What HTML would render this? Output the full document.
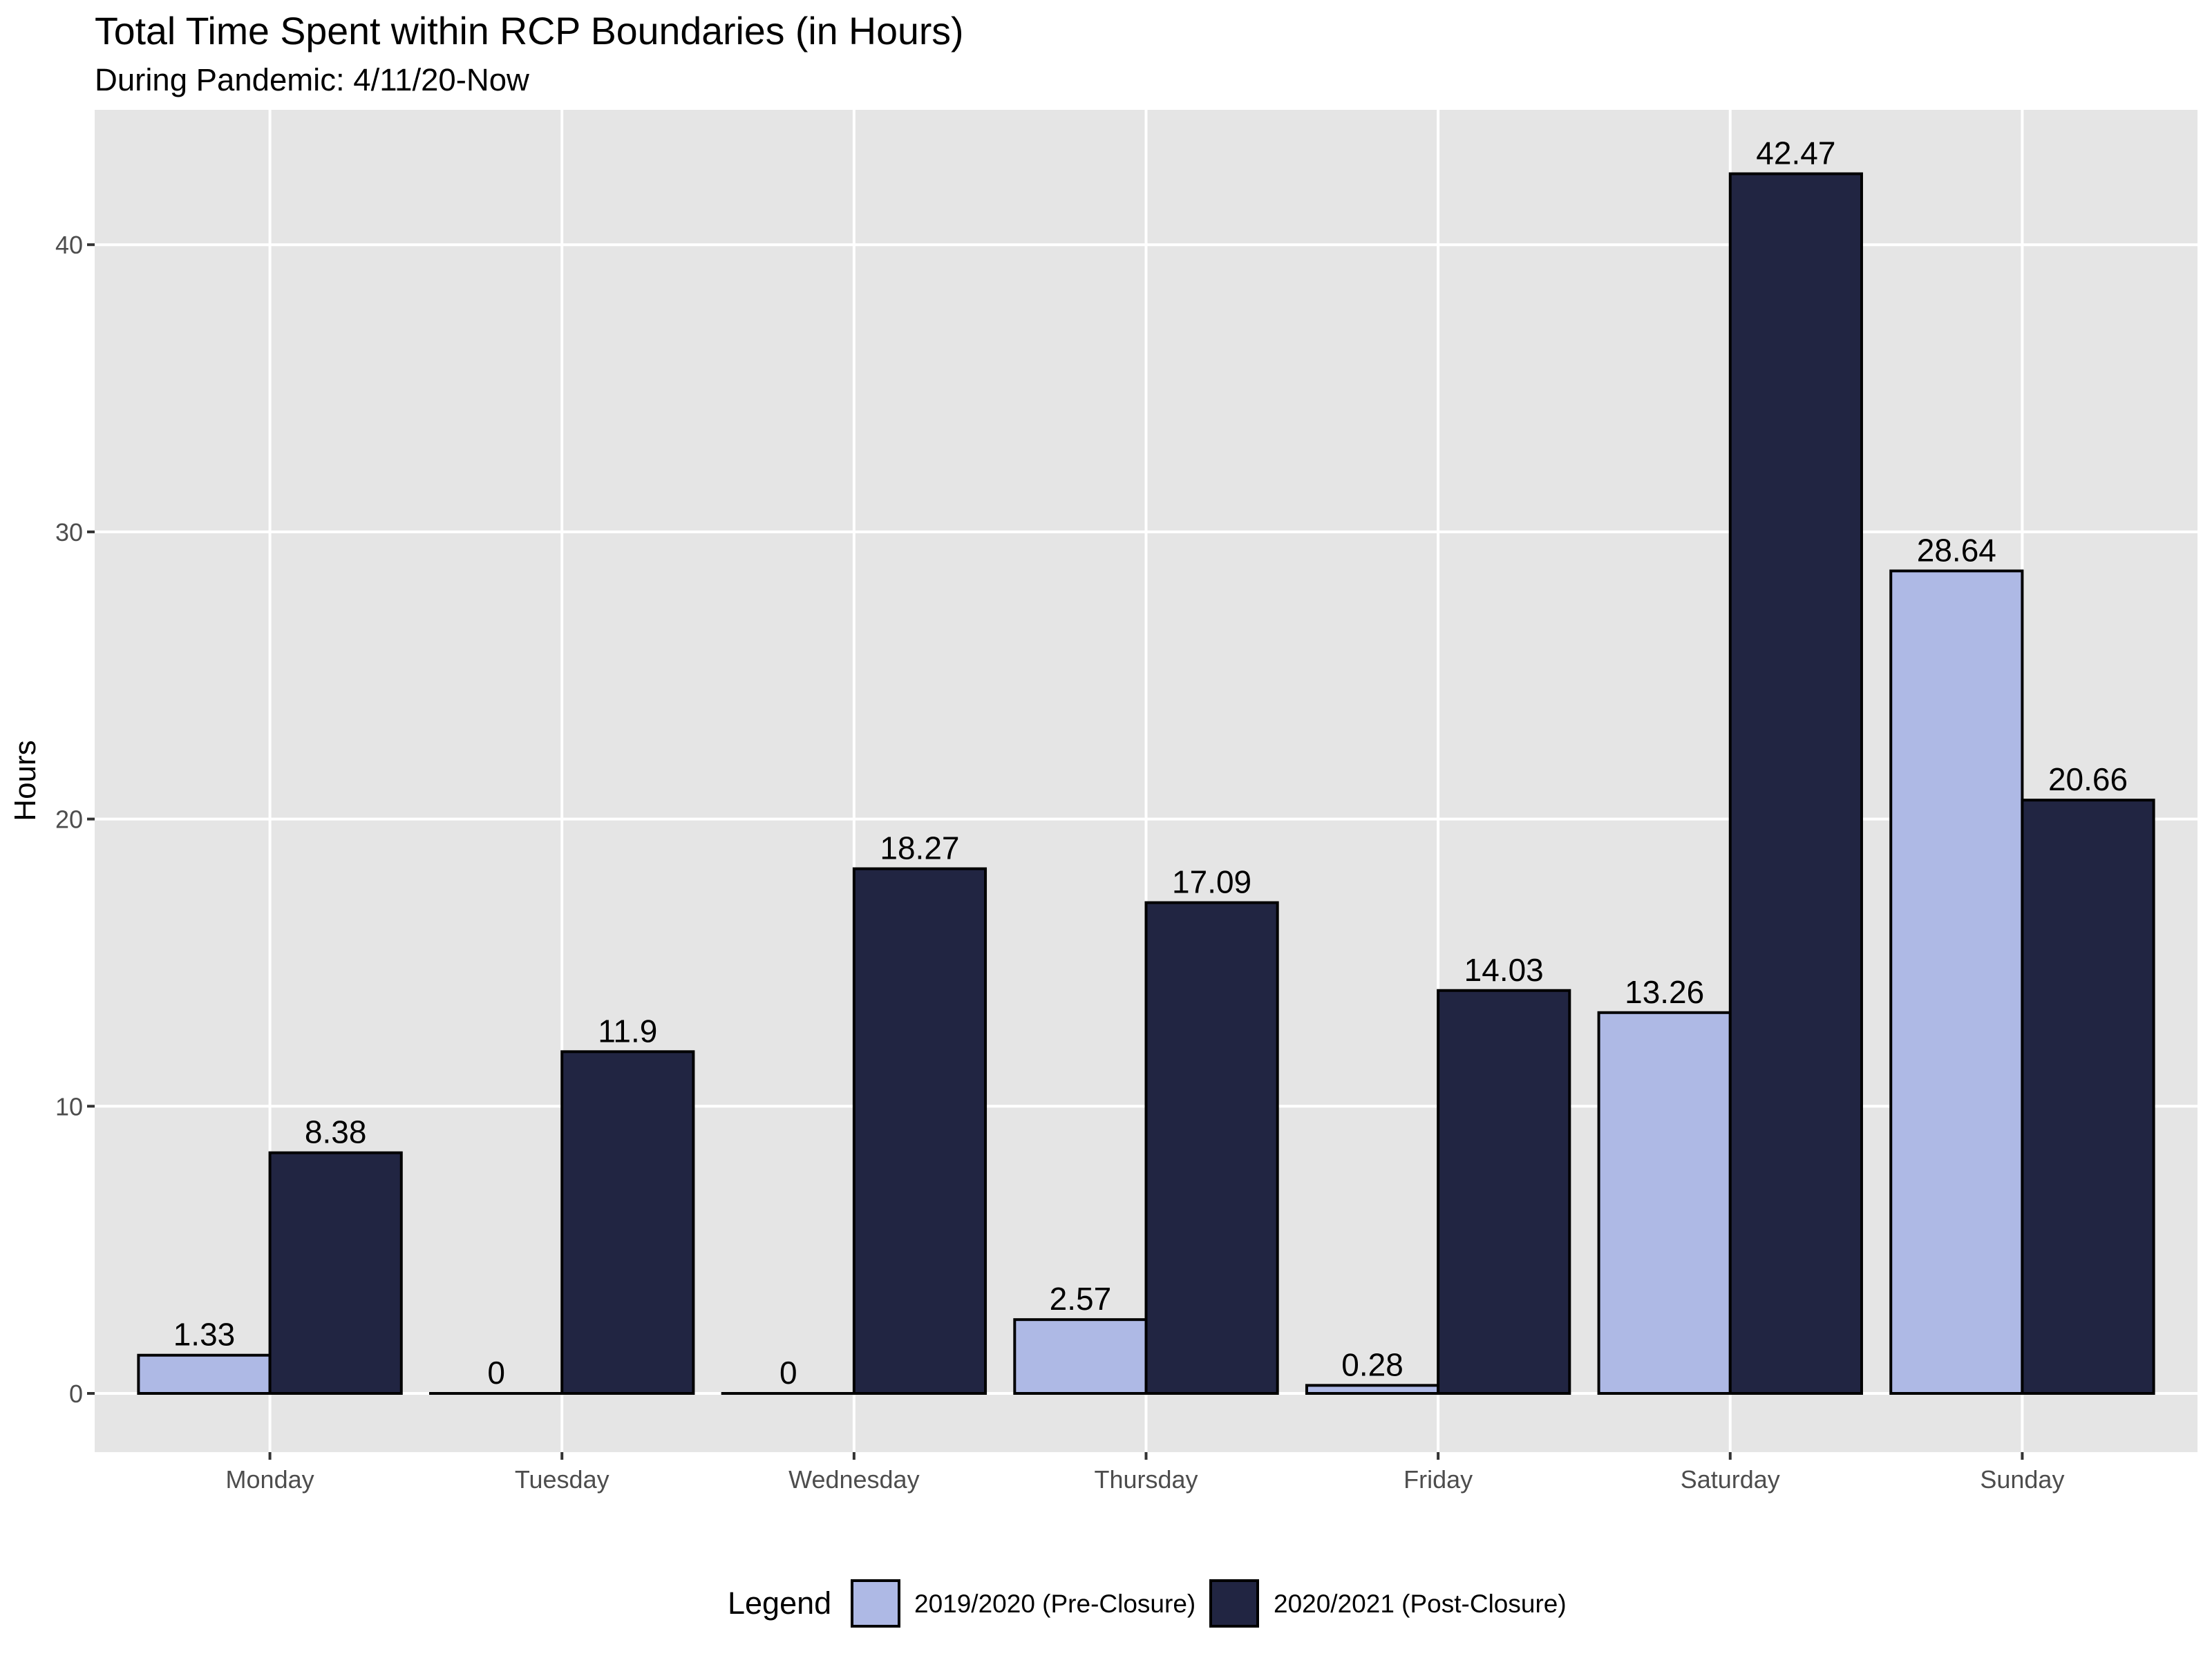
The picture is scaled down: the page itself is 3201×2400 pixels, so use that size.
<!DOCTYPE html>
<html><head><meta charset="utf-8"><style>
html,body{margin:0;padding:0;background:#fff;}
svg{display:block;font-family:"Liberation Sans",Arial,sans-serif;}
</style></head><body>
<svg id="chart" width="3201" height="2400" viewBox="0 0 3201 2400" xmlns="http://www.w3.org/2000/svg">
<rect width="3201" height="2400" fill="#fff"/>
<text x="137" y="64" font-size="55.5" fill="#000">Total Time Spent within RCP Boundaries (in Hours)</text>
<text x="137" y="131" font-size="45.5" fill="#000">During Pandemic: 4/11/20-Now</text>
<rect x="137" y="159" width="3043" height="1943" fill="#e5e5e5"/>
<g id="grid"></g>
<g id="bars"></g>
<g id="labels"></g>
<g id="axes"></g>
<text transform="translate(51,1130) rotate(-90)" text-anchor="middle" font-size="44" fill="#000">Hours</text>
<g>
<text x="1053" y="2336" font-size="45" fill="#000">Legend</text>
<rect x="1233" y="2288" width="68" height="66" fill="#aeb9e5" stroke="#000" stroke-width="4"/>
<text x="1323" y="2334" font-size="37" fill="#000">2019/2020 (Pre-Closure)</text>
<rect x="1752" y="2288" width="68" height="66" fill="#212542" stroke="#000" stroke-width="4"/>
<text x="1843" y="2334" font-size="37" fill="#000">2020/2021 (Post-Closure)</text>
</g>
</svg>
<script>
const categories = ["Monday","Tuesday","Wednesday","Thursday","Friday","Saturday","Sunday"];
const preClosure = [1.33, 0, 0, 2.57, 0.28, 13.26, 28.64];
const postClosure = [8.38, 11.9, 18.27, 17.09, 14.03, 42.47, 20.66];
const yTicks = [0, 10, 20, 30, 40];
const preLabels = ["1.33","0","0","2.57","0.28","13.26","28.64"];
const postLabels = ["8.38","11.9","18.27","17.09","14.03","42.47","20.66"];

const NS = "http://www.w3.org/2000/svg";
const PL = 137, PR = 3180, PT = 159, PB = 2102;
const Y0 = 2017, PXU = 41.57;
function y(v){ return Y0 - v * PXU; }
const step = (PR - PL) / (categories.length + 0.2);
function x(i){ return PL + step * (0.6 + i); }
const bw = step * 0.45;
function mk(tag, attrs, parent){
  const el = document.createElementNS(NS, tag);
  for (const k in attrs) el.setAttribute(k, attrs[k]);
  parent.appendChild(el); return el;
}
const grid = document.getElementById("grid");
const bars = document.getElementById("bars");
const labels = document.getElementById("labels");
const axes = document.getElementById("axes");

yTicks.forEach(t => {
  const l = mk("line", {x1:PL, x2:PR, y1:y(t), y2:y(t), stroke:"#fff", "stroke-width":4}, grid);
  
  
  const tk = mk("line", {x1:PL-11, x2:PL, y1:y(t), y2:y(t), stroke:"#333", "stroke-width":4}, axes);
  
  
  const tx = mk("text", {x:PL-17, y:y(t)+13, "text-anchor":"end", "font-size":36, fill:"#4d4d4d"}, axes);
  tx.textContent = t;
  
  
});
categories.forEach((c, i) => {
  const cx = x(i);
  const l = mk("line", {x1:cx, x2:cx, y1:PT, y2:PB, stroke:"#fff", "stroke-width":4}, grid);
  
  
  const tk = mk("line", {x1:cx, x2:cx, y1:PB, y2:PB+11, stroke:"#333", "stroke-width":4}, axes);
  
  
  const tx = mk("text", {x:cx, y:PB+52, "text-anchor":"middle", "font-size":36, fill:"#4d4d4d"}, axes);
  tx.textContent = c;
  
  

  [[preClosure[i], preLabels[i], cx - bw, "#aeb9e5", "bar-pre-closure"],
   [postClosure[i], postLabels[i], cx, "#212542", "bar-post-closure"]].forEach(([v, lab, bx, fill, name]) => {
    const top = y(v);
    const r = mk("rect", {x:bx, y:top, width:bw, height:Math.max(Y0 - top, 0.01), fill:fill, stroke:"#000", "stroke-width":4}, bars);
    
    
    const t = mk("text", {x:bx + bw/2, y:top - 14, "text-anchor":"middle", "font-size":46, fill:"#000"}, labels);
    t.textContent = lab;
    
    
  });
});
</script>
</body></html>
